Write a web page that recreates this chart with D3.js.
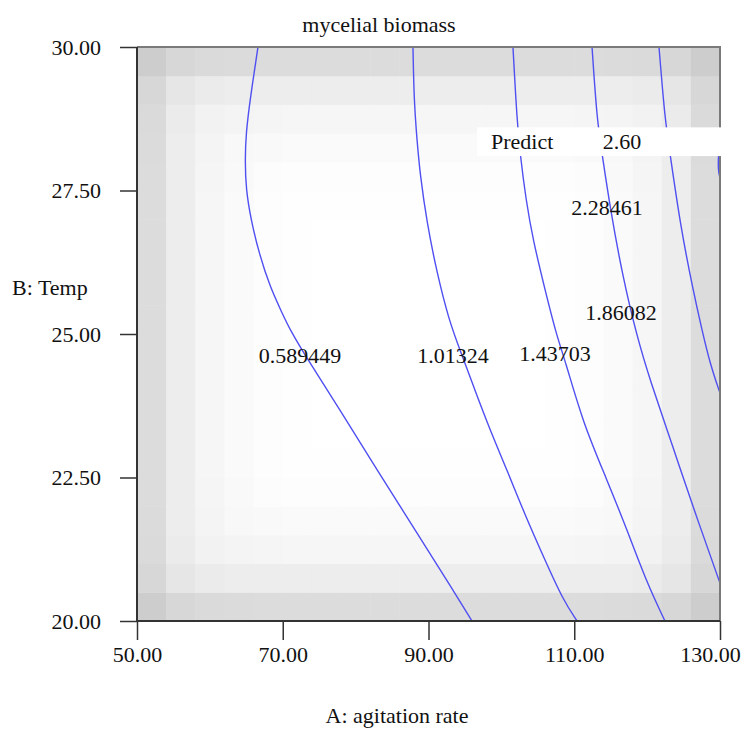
<!DOCTYPE html>
<html>
<head>
<meta charset="utf-8">
<style>
  body { margin: 0; background: #fff; }
  text { font-family: "Liberation Serif", "Times New Roman", serif; fill: #111; }
</style>
</head>
<body>
<svg id="chart" width="745" height="729"></svg>
<script src="https://cdn.jsdelivr.net/npm/d3@7/dist/d3.min.js"></script>
<script>
// axis ticks
const xTicks = [50, 70, 90, 110, 130]
const yTicks = [20, 22.5, 25, 27.5, 30]

// standard error shading per grid column / row (20 x 20 cells)
const seA = [34, 17, 9, 5, 2, 1, 0, 0, 0, 0, 0, 0, 0, 0, 1, 2, 5, 9, 17, 34]
const seB = [34, 17, 9, 5, 2, 1, 0, 0, 0, 0, 0, 0, 0, 0, 1, 2, 5, 9, 17, 34]

// contour lines, [A, B] points
const c1 = [[66.60,30.00],[65.51,29.08],[64.96,28.50],[64.82,28.03],[64.96,27.51],[65.64,26.99],[66.74,26.41],[68.25,25.82],[69.90,25.37],[70.99,25.07],[73.74,24.49],[77.86,23.68],[82.93,22.63],[88.15,21.59],[93.36,20.54],[95.97,20.00]]
const c2 = [[87.87,30.00],[88.01,29.08],[88.42,28.38],[88.83,27.80],[89.79,26.93],[91.17,26.06],[92.81,25.24],[94.32,24.72],[96.38,24.02],[98.44,23.33],[100.77,22.63],[103.24,21.85],[105.99,21.06],[108.46,20.37],[110.38,20.00]]
const c3 = [[101.59,30.00],[102.14,28.73],[102.56,28.15],[103.38,27.33],[104.34,26.64],[105.99,25.77],[107.63,24.95],[108.73,24.55],[111.20,23.45],[114.49,22.46],[117.24,21.59],[119.98,20.66],[122.45,20.00]]
const c4 = [[112.44,30.00],[113.12,28.73],[113.81,28.15],[114.91,27.21],[116.55,26.06],[118.61,24.95],[120.39,24.20],[123.55,23.03],[126.29,21.99],[130.00,20.66]]
const c5 = [[121.63,30.00],[122.45,28.73],[123.14,28.15],[124.51,26.93],[126.29,25.77],[127.53,25.07],[128.62,24.49],[130.00,23.97]]
const c6 = [[130.00,28.47],[129.79,28.12],[129.73,27.86],[130.00,27.72]]
const contours = [c1, c2, c3, c4, c5, c6]

// contour labels: text, A, B
const labelText = ["0.589449", "1.01324", "1.43703", "1.86082", "2.28461"]
const labelA = [72.37, 93.36, 107.36, 116.41, 114.49]
const labelB = [24.63, 24.63, 24.67, 25.37, 27.21]

const predictValue = "2.60"

const svg = d3.select("#chart")
const pLeft = 137, pRight = 720, pTop = 47, pBottom = 621
const fs = "22px"

let x = d3.scaleLinear().domain([50, 130]).range([pLeft, pRight])
let y = d3.scaleLinear().domain([20, 30]).range([pBottom, pTop])

svg.append("clipPath").attr("id", "plotclip")
  .append("rect").attr("x", pLeft).attr("y", pTop)
  .attr("width", pRight - pLeft).attr("height", pBottom - pTop)

let plot = svg.append("g").attr("clip-path", "url(#plotclip)")

// shaded standard error grid
let shade = d3.scaleLinear().domain([0, 50]).range(["#ffffff", "#cbcbcb"]).clamp(true)
let cells = []
seA.forEach((a, i) => seB.forEach((b, j) => cells.push({ i, j, v: Math.hypot(a, b) })))
plot.selectAll(".cell")
  .data(cells)
  .enter()
  .append("rect")
  .attr("x", d => x(50 + d.i * 4))
  .attr("y", d => y(20 + (d.j + 1) * 0.5))
  .attr("width", x(54) - x(50) + 0.5)
  .attr("height", y(20) - y(20.5) + 0.5)
  .attr("fill", d => shade(d.v))

// contour lines
let line = d3.line()
  .x(d => x(d[0]))
  .y(d => y(d[1]))
  .curve(d3.curveBasis)
plot.selectAll(".contour")
  .data(contours)
  .enter()
  .append("path")
  .attr("d", line)
  .attr("fill", "none")
  .attr("stroke", "#4f4ff2")
  .attr("stroke-width", 1.4)

// predict band
plot.append("rect")
  .attr("x", 477).attr("y", y(28.6))
  .attr("width", pRight - 477 + 2).attr("height", y(28.1) - y(28.6))
  .attr("fill", "#fff")

// frame (top / right)
svg.append("path")
  .attr("d", `M${pLeft},${pTop}H${pRight}V${pBottom}`)
  .attr("fill", "none").attr("stroke", "#7a7a7a").attr("stroke-width", 2)

// band covers right border too
svg.append("rect")
  .attr("x", pRight - 2).attr("y", y(28.6))
  .attr("width", 4).attr("height", y(28.1) - y(28.6))
  .attr("fill", "#fff")

svg.append("text").attr("x", 491).attr("y", y(28.35)).attr("dy", "0.35em")
  .style("font-size", fs).text("Predict")
svg.append("text").attr("x", 622).attr("y", y(28.35)).attr("dy", "0.35em")
  .attr("text-anchor", "middle").style("font-size", fs).text(predictValue)

// contour labels
svg.selectAll(".clabel")
  .data(labelText)
  .enter()
  .append("text")
  .attr("x", (d, i) => x(labelA[i]))
  .attr("y", (d, i) => y(labelB[i]))
  .attr("dy", "0.35em")
  .attr("text-anchor", "middle")
  .style("font-size", fs)
  .text(d => d)

// axes
let xAxis = d3.axisBottom(x).tickValues(xTicks).tickSize(19).tickPadding(6).tickFormat(d3.format(".2f"))
let yAxis = d3.axisLeft(y).tickValues(yTicks).tickSize(17).tickPadding(19).tickFormat(d3.format(".2f"))

let gx = svg.append("g").attr("transform", `translate(0,${pBottom})`).call(xAxis)
let gy = svg.append("g").attr("transform", `translate(${pLeft},0)`).call(yAxis)
;[gx, gy].forEach(g => {
  g.select(".domain").attr("stroke", "#333").attr("stroke-width", 2)
  g.selectAll(".tick line").attr("stroke", "#333").attr("stroke-width", 1.5)
  g.selectAll(".tick text").style("font-family", "Liberation Serif, serif")
    .style("font-size", fs).attr("fill", "#111")
})
gx.select(".domain").attr("d", `M${pLeft},0H${pRight}`)
gy.select(".domain").attr("d", `M0,${pBottom}V${pTop}`)
// keep the last x label inside the window
gx.selectAll(".tick text").filter(d => d === 130).attr("dx", -10)

// titles
svg.append("text").attr("x", 379).attr("y", 32).attr("text-anchor", "middle")
  .style("font-size", fs).text("mycelial biomass")
svg.append("text").attr("x", 397).attr("y", 723).attr("text-anchor", "middle")
  .style("font-size", fs).text("A: agitation rate")
svg.append("text").attr("x", 12).attr("y", 295)
  .style("font-size", fs).text("B: Temp")
</script>
</body>
</html>
